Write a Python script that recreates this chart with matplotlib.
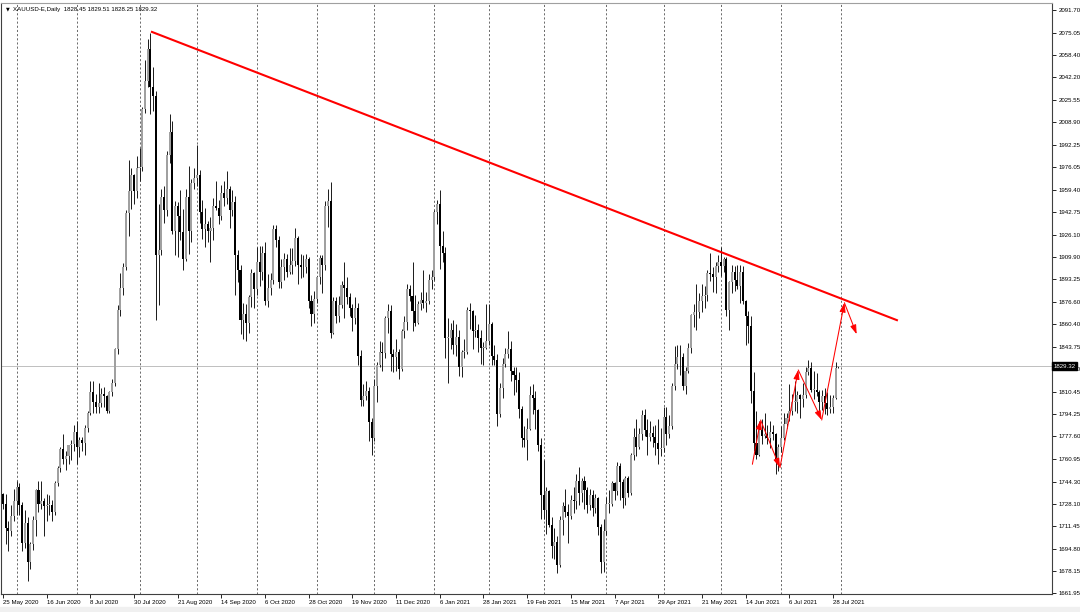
import matplotlib
matplotlib.use("Agg")
import matplotlib.pyplot as plt
from matplotlib.patches import Rectangle
import numpy as np
import pandas as pd

# XAUUSD daily bars, 25 May 2020 .. 30 Jul 2021
opens = [
    # May 2020
    1735, 1728, 1710, 1708, 1719,
    # Jun 2020
    1730, 1740, 1727, 1699, 1714, 1685, 1698, 1716, 1738, 1728, 1730, 1726, 1727, 1727, 1722, 1743, 1754, 1768, 1761, 1763, 1771, 1772,
    # Jul 2020
    1781, 1770, 1775, 1773, 1784, 1795, 1810, 1803, 1799, 1802, 1809, 1807, 1796, 1810, 1817, 1842, 1871, 1887, 1902, 1942, 1958, 1970, 1958,
    # Aug 2020
    1975, 1976, 2019, 2039, 2063, 2035, 2028, 1911, 1915, 1954, 1944, 1985, 2002, 1929, 1947, 1940, 1928, 1908, 1954, 1929, 1964,
    # Sep 2020
    1968, 1970, 1943, 1930, 1934, 1929, 1931, 1947, 1946, 1940, 1957, 1953, 1960, 1944, 1950, 1911, 1900, 1863, 1868, 1861, 1880, 1898,
    # Oct 2020
    1886, 1906, 1899, 1913, 1877, 1887, 1893, 1930, 1922, 1891, 1902, 1908, 1899, 1904, 1907, 1924, 1904, 1902, 1902, 1908, 1877, 1868,
    # Nov 2020
    1879, 1895, 1909, 1904, 1947, 1951, 1854, 1877, 1866, 1874, 1889, 1887, 1880, 1872, 1865, 1872, 1837, 1804, 1807, 1811, 1788,
    # Dec 2020
    1776, 1815, 1830, 1840, 1839, 1865, 1870, 1838, 1836, 1840, 1827, 1855, 1862, 1886, 1881, 1870, 1861, 1875, 1878, 1876, 1877, 1893,
    # Jan 2021
    1895, 1943, 1949, 1918, 1913, 1850, 1850, 1856, 1845, 1851, 1829, 1840, 1840, 1871, 1870, 1855, 1856, 1850, 1843, 1843,
    # Feb 2021
    1848, 1860, 1837, 1834, 1794, 1813, 1831, 1838, 1842, 1826, 1823, 1819, 1798, 1776, 1775, 1783, 1808, 1806, 1797, 1771,
    # Mar 2021
    1734, 1723, 1737, 1712, 1697, 1700, 1683, 1716, 1726, 1722, 1719, 1731, 1730, 1745, 1736, 1745, 1738, 1727, 1734, 1725, 1732, 1711, 1685,
    # Apr 2021
    1708, 1728, 1728, 1743, 1737, 1756, 1744, 1732, 1747, 1736, 1764, 1777, 1770, 1779, 1793, 1782, 1777, 1780, 1777, 1773, 1768,
    # May 2021
    1769, 1792, 1779, 1785, 1815, 1831, 1836, 1836, 1815, 1826, 1843, 1867, 1869, 1869, 1877, 1881, 1882, 1898, 1897, 1895, 1903,
    # Jun 2021
    1906, 1903, 1908, 1871, 1891, 1899, 1893, 1888, 1899, 1877, 1866, 1859, 1811, 1773, 1764, 1782, 1778, 1779, 1776, 1781, 1779, 1761,
    # Jul 2021
    1770, 1776, 1787, 1791, 1796, 1803, 1803, 1808, 1805, 1808, 1825, 1828, 1812, 1812, 1810, 1803, 1807, 1802, 1798, 1799, 1806, 1828.45,
]
highs = [
    1736, 1735, 1715, 1727, 1739,
    1745, 1743, 1729, 1723, 1718, 1700, 1719, 1739, 1745, 1745, 1732, 1735, 1734, 1731, 1745, 1756, 1770, 1779, 1767, 1771, 1775, 1786,
    1789, 1777, 1777, 1786, 1796, 1818, 1818, 1809, 1817, 1813, 1814, 1808, 1811, 1820, 1843, 1874, 1898, 1905, 1944, 1981, 1975, 1971, 1984,
    1990, 2020, 2055, 2070, 2075, 2050, 2032, 1949, 1960, 1962, 1988, 2015, 2010, 1951, 1950, 1959, 1945, 1960, 1977, 1967, 1975,
    1992, 1974, 1952, 1946, 1936, 1939, 1953, 1966, 1952, 1963, 1966, 1973, 1962, 1959, 1955, 1915, 1904, 1876, 1875, 1882, 1901, 1899,
    1917, 1918, 1918, 1921, 1897, 1898, 1933, 1933, 1925, 1908, 1913, 1912, 1916, 1916, 1931, 1925, 1912, 1911, 1912, 1910, 1882, 1885,
    1896, 1911, 1911, 1951, 1960, 1965, 1880, 1880, 1881, 1892, 1906, 1895, 1883, 1875, 1880, 1876, 1841, 1816, 1818, 1814, 1791,
    1820, 1832, 1848, 1847, 1866, 1875, 1874, 1842, 1849, 1842, 1857, 1866, 1890, 1889, 1906, 1882, 1877, 1884, 1900, 1884, 1897, 1900,
    1944, 1952, 1959, 1929, 1917, 1865, 1861, 1863, 1860, 1856, 1841, 1849, 1873, 1876, 1871, 1867, 1860, 1856, 1847, 1875,
    1875, 1862, 1845, 1838, 1817, 1835, 1843, 1855, 1848, 1829, 1829, 1825, 1800, 1785, 1791, 1815, 1816, 1811, 1798, 1776,
    1760, 1740, 1738, 1718, 1710, 1704, 1719, 1729, 1739, 1728, 1734, 1740, 1750, 1755, 1747, 1748, 1740, 1739, 1738, 1735, 1733, 1713, 1717,
    1733, 1738, 1745, 1744, 1759, 1758, 1746, 1748, 1748, 1765, 1784, 1790, 1784, 1797, 1798, 1790, 1789, 1785, 1786, 1790, 1784,
    1799, 1799, 1793, 1817, 1844, 1845, 1845, 1839, 1829, 1846, 1868, 1875, 1890, 1883, 1890, 1888, 1900, 1913, 1902, 1906, 1911,
    1917, 1910, 1910, 1892, 1904, 1903, 1904, 1904, 1903, 1878, 1870, 1866, 1825, 1796, 1789, 1790, 1795, 1786, 1789, 1786, 1780, 1772,
    1785, 1795, 1795, 1816, 1809, 1818, 1811, 1809, 1817, 1829, 1834, 1832, 1826, 1824, 1812, 1812, 1813, 1810, 1808, 1808, 1832, 1829.51,
]
lows = [
    1724, 1698, 1693, 1704, 1715,
    1720, 1720, 1693, 1695, 1671, 1680, 1694, 1704, 1722, 1724, 1704, 1715, 1720, 1715, 1720, 1741, 1751, 1757, 1753, 1757, 1760, 1767,
    1757, 1762, 1767, 1764, 1781, 1793, 1795, 1795, 1795, 1799, 1799, 1795, 1795, 1807, 1815, 1838, 1866, 1882, 1900, 1925, 1945, 1949, 1953,
    1966, 1973, 2016, 2035, 2015, 2017, 1863, 1874, 1911, 1935, 1940, 1979, 1927, 1911, 1910, 1922, 1900, 1907, 1912, 1921, 1960,
    1962, 1935, 1923, 1917, 1921, 1906, 1922, 1944, 1934, 1937, 1947, 1949, 1931, 1940, 1882, 1891, 1853, 1849, 1848, 1854, 1873, 1872,
    1882, 1888, 1893, 1874, 1873, 1882, 1890, 1917, 1887, 1887, 1893, 1895, 1897, 1897, 1903, 1890, 1894, 1895, 1898, 1872, 1859, 1861,
    1876, 1890, 1883, 1900, 1932, 1850, 1853, 1861, 1862, 1872, 1865, 1875, 1866, 1855, 1860, 1830, 1800, 1800, 1804, 1774, 1764,
    1774, 1803, 1829, 1826, 1835, 1854, 1826, 1825, 1826, 1820, 1826, 1850, 1856, 1877, 1855, 1859, 1860, 1871, 1872, 1869, 1875, 1886,
    1893, 1934, 1901, 1906, 1835, 1817, 1842, 1838, 1837, 1822, 1821, 1835, 1838, 1857, 1842, 1851, 1840, 1831, 1830, 1842,
    1845, 1830, 1830, 1785, 1792, 1806, 1829, 1835, 1818, 1808, 1810, 1791, 1770, 1770, 1760, 1782, 1794, 1783, 1767, 1717,
    1717, 1706, 1711, 1688, 1687, 1677, 1681, 1705, 1718, 1699, 1717, 1721, 1724, 1727, 1729, 1724, 1721, 1723, 1719, 1721, 1705, 1677, 1678,
    1705, 1721, 1726, 1731, 1734, 1731, 1725, 1727, 1733, 1734, 1760, 1763, 1768, 1775, 1778, 1764, 1774, 1770, 1764, 1757, 1763,
    1766, 1771, 1776, 1783, 1812, 1827, 1823, 1812, 1809, 1824, 1839, 1858, 1856, 1865, 1869, 1872, 1877, 1892, 1884, 1883, 1899,
    1896, 1899, 1866, 1856, 1883, 1885, 1886, 1876, 1875, 1845, 1846, 1802, 1767, 1761, 1763, 1772, 1776, 1772, 1769, 1775, 1750, 1752,
    1766, 1775, 1784, 1789, 1793, 1796, 1795, 1791, 1799, 1806, 1823, 1810, 1805, 1807, 1795, 1797, 1794, 1793, 1795, 1795, 1805, 1828.25,
]
closes = [
    1728, 1710, 1708, 1719, 1730,
    1740, 1727, 1699, 1714, 1685, 1698, 1716, 1738, 1728, 1730, 1726, 1727, 1727, 1722, 1743, 1754, 1768, 1761, 1763, 1771, 1772, 1781,
    1770, 1775, 1773, 1784, 1795, 1810, 1803, 1799, 1802, 1809, 1807, 1796, 1810, 1817, 1842, 1871, 1887, 1902, 1942, 1958, 1970, 1958, 1975,
    1976, 2019, 2039, 2063, 2035, 2028, 1911, 1915, 1954, 1944, 1985, 2002, 1929, 1947, 1940, 1928, 1908, 1954, 1929, 1964, 1968,
    1970, 1943, 1930, 1934, 1929, 1931, 1947, 1946, 1940, 1957, 1953, 1960, 1944, 1950, 1911, 1900, 1863, 1868, 1861, 1880, 1898, 1886,
    1906, 1899, 1913, 1877, 1887, 1893, 1930, 1922, 1891, 1902, 1908, 1899, 1904, 1907, 1924, 1904, 1902, 1902, 1908, 1877, 1868, 1879,
    1895, 1909, 1904, 1947, 1951, 1854, 1877, 1866, 1874, 1889, 1887, 1880, 1872, 1865, 1872, 1837, 1804, 1807, 1811, 1788, 1776,
    1815, 1830, 1840, 1839, 1865, 1870, 1838, 1836, 1840, 1827, 1855, 1862, 1886, 1881, 1870, 1861, 1875, 1878, 1876, 1877, 1893, 1895,
    1943, 1949, 1918, 1913, 1850, 1850, 1856, 1845, 1851, 1829, 1840, 1840, 1871, 1870, 1855, 1856, 1850, 1843, 1843, 1848,
    1860, 1837, 1834, 1794, 1813, 1831, 1838, 1842, 1826, 1823, 1819, 1798, 1776, 1775, 1783, 1808, 1806, 1797, 1771, 1734,
    1723, 1737, 1712, 1697, 1700, 1683, 1716, 1726, 1722, 1719, 1731, 1730, 1745, 1736, 1745, 1738, 1727, 1734, 1725, 1732, 1711, 1685, 1708,
    1728, 1728, 1743, 1737, 1756, 1744, 1732, 1747, 1736, 1764, 1777, 1770, 1779, 1793, 1782, 1777, 1780, 1777, 1773, 1768, 1769,
    1792, 1779, 1785, 1815, 1831, 1836, 1836, 1815, 1826, 1843, 1867, 1869, 1869, 1877, 1881, 1882, 1898, 1897, 1895, 1903, 1906,
    1903, 1908, 1871, 1891, 1899, 1893, 1888, 1899, 1877, 1866, 1859, 1811, 1773, 1764, 1782, 1778, 1779, 1776, 1781, 1779, 1761, 1770,
    1776, 1787, 1791, 1796, 1803, 1803, 1808, 1805, 1808, 1825, 1828, 1812, 1812, 1810, 1803, 1807, 1802, 1798, 1799, 1806, 1828, 1829.32,
]
holidays = ["2020-12-25", "2021-01-01", "2021-04-02"]

date_labels = ["25 May 2020", "16 Jun 2020", "8 Jul 2020", "30 Jul 2020", "21 Aug 2020",
               "14 Sep 2020", "6 Oct 2020", "28 Oct 2020", "19 Nov 2020", "11 Dec 2020",
               "6 Jan 2021", "28 Jan 2021", "19 Feb 2021", "15 Mar 2021", "7 Apr 2021",
               "29 Apr 2021", "21 May 2021", "14 Jun 2021", "6 Jul 2021", "28 Jul 2021"]
price_ticks = [2091.70, 2075.05, 2058.40, 2042.20, 2025.55, 2008.90, 1992.25, 1976.05, 1959.40,
               1942.75, 1926.10, 1909.90, 1893.25, 1876.60, 1860.40, 1843.75, 1827.10, 1810.45,
               1794.25, 1777.60, 1760.95, 1744.30, 1728.10, 1711.45, 1694.80, 1678.15, 1661.95]
last_price = 1829.32
title = "XAUUSD-E,Daily  1828.45 1829.51 1828.25 1829.32"

# drawn objects (bar index, price)
trend_x = [54.2, 327.8]
trend_y = [2075.8, 1862.9]
arrow_x = [274.5, 277.5, 284.6, 291.3, 299.9, 308.2, 312.7]
arrow_y = [1757.0, 1789.6, 1754.5, 1826.5, 1789.6, 1876.0, 1852.8]

dates = pd.bdate_range("2020-05-25", "2021-07-30")
dates = dates[~dates.isin(pd.to_datetime(holidays))]
assert len(dates) == len(opens) == len(highs) == len(lows) == len(closes)

o = np.array(opens, float)
h = np.array(highs, float)
l = np.array(lows, float)
c = np.array(closes, float)
idx = np.arange(len(c))

plt.rcParams["font.family"] = ["Liberation Sans", "DejaVu Sans"]

W, H = 1080, 612
fig = plt.figure(figsize=(W / 100, H / 100), dpi=100)
fig.patch.set_facecolor("white")
fig.patches.append(Rectangle((0, 0), 1, 5 / H, transform=fig.transFigure,
                             color="#f0f0f0", zorder=-1))
ax = fig.add_axes([1 / W, 1 - 593.5 / H, 1051 / W, 591 / H])

px_bar = 2.73
ax.set_xlim(-2 / px_bar, -2 / px_bar + 1051 / px_bar)
ax.set_ylim(1661.8, 2097.2)

# month-start dotted grid
months = pd.Series(dates.to_period("M"))
starts = idx[(months != months.shift()).values][1:]
for s in list(starts) + [len(idx)]:
    ax.axvline(s, color="#303030", lw=0.5, ls=(0, (3, 3)), zorder=0.5)

ax.axhline(last_price, color="#c0c0c0", lw=0.72, zorder=1)

# candles
up = c >= o
ax.vlines(idx, l, h, color="#202020", lw=0.72, zorder=2)
body = np.maximum(np.abs(c - o), 0.4)
ax.bar(idx[up], body[up], bottom=np.minimum(o, c)[up], width=0.75,
       color="#a0a0a0", lw=0, zorder=3)
ax.bar(idx[~up], body[~up], bottom=np.minimum(o, c)[~up], width=0.75,
       color="#000000", lw=0, zorder=3)

# trendline and arrows
ax.plot(trend_x, trend_y, color="#ff0000", lw=1.5, zorder=4, solid_capstyle="butt")
for i in range(len(arrow_x) - 1):
    ax.annotate("", xy=(arrow_x[i + 1], arrow_y[i + 1]), xytext=(arrow_x[i], arrow_y[i]),
                arrowprops=dict(arrowstyle="-|>,head_length=0.55,head_width=0.18",
                                color="#ff0000", lw=0.75, shrinkA=0, shrinkB=0),
                zorder=5)

# axes cosmetics
for side in ["left", "bottom", "right"]:
    ax.spines[side].set_color("#404040")
    ax.spines[side].set_linewidth(0.8)
ax.spines["top"].set_color("#a0a0a0")
ax.spines["top"].set_linewidth(0.8)

ax.yaxis.tick_right()
ax.set_yticks(price_ticks)
ax.set_yticklabels([f"{v:.2f}" for v in price_ticks])
ax.tick_params(axis="y", length=3, width=0.6, pad=2, labelsize=4.4, colors="#000000")

label_pos = [dates.get_loc(d) for d in pd.to_datetime(date_labels, format="%d %b %Y")]
ax.set_xticks(label_pos)
ax.set_xticklabels(date_labels)
ax.tick_params(axis="x", length=3, width=0.6, pad=2, labelsize=4.4, colors="#000000")
for t in ax.get_xticklabels():
    t.set_ha("left")

# current price box
ax.text(1.0015, last_price, f"{last_price:.2f}", transform=ax.get_yaxis_transform(),
        ha="left", va="center", fontsize=4.4, color="white", zorder=10, clip_on=False,
        bbox=dict(boxstyle="square,pad=0.25", fc="black", ec="black"))

fig.text(6 / W, 1 - 9 / H, "\u25bc", fontsize=3.5, va="center", ha="left",
         family=["DejaVu Sans"])
fig.text(13 / W, 1 - 9 / H, title, fontsize=4.4, va="center", ha="left")

fig.savefig("out.png", dpi=100, facecolor=fig.get_facecolor())
